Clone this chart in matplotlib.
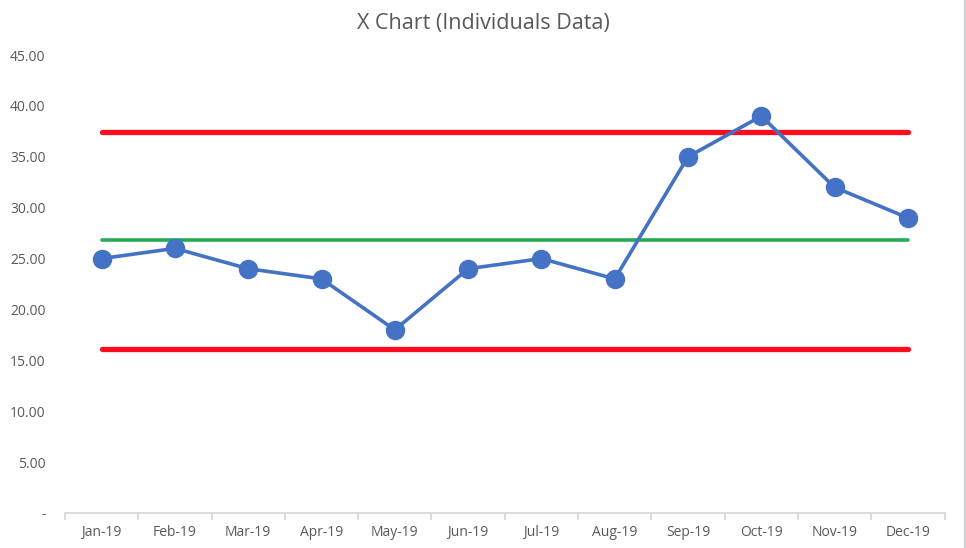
import matplotlib.pyplot as plt
from matplotlib.lines import Line2D

months = ["Jan-19", "Feb-19", "Mar-19", "Apr-19", "May-19", "Jun-19",
          "Jul-19", "Aug-19", "Sep-19", "Oct-19", "Nov-19", "Dec-19"]
values = [25, 26, 24, 23, 18, 24, 25, 23, 35, 39, 32, 29]
average = 26.8
upper_limit = 37.4
lower_limit = 16.1
y_ticks = [0, 5, 10, 15, 20, 25, 30, 35, 40, 45]

TEXT_COLOR = "#595959"
AXIS_COLOR = "#D9D9D9"

plt.rcParams["font.family"] = ["Open Sans", "DejaVu Sans"]

fig = plt.figure(figsize=(9.66, 5.48), dpi=100)
ax = fig.add_axes([0.0673, 0.0639, 0.9105, 0.8357])

x = list(range(len(months)))
n = len(x)

ax.plot(x, [upper_limit] * n, color="#FF0D1E", linewidth=3.8, solid_capstyle="round", zorder=2)
ax.plot(x, [lower_limit] * n, color="#FF0D1E", linewidth=3.8, solid_capstyle="round", zorder=2)
ax.plot(x, [average] * n, color="#22AA55", linewidth=2.6, solid_capstyle="round", zorder=2)
ax.plot(x, values, color="#4472C4", linewidth=2.6, marker="o", markersize=13, zorder=3)

ax.set_xlim(-0.5, n - 0.5)
ax.set_ylim(0, 45)
ax.set_yticks(y_ticks)
ax.set_yticklabels(["-" if v == 0 else f"{v:.2f}" for v in y_ticks])
ax.set_xticks(x)
ax.set_xticklabels(months)
ax.set_xticks([i - 0.5 for i in range(n + 1)], minor=True)

for side in ("top", "right", "left"):
    ax.spines[side].set_visible(False)
ax.spines["bottom"].set_color(AXIS_COLOR)
ax.spines["bottom"].set_linewidth(1.3)

ax.tick_params(axis="y", length=0, labelsize=10, labelcolor=TEXT_COLOR, pad=14)
ax.tick_params(axis="x", which="major", length=0, labelsize=10, labelcolor=TEXT_COLOR, pad=9)
ax.tick_params(axis="x", which="minor", length=5, width=1.3, color=AXIS_COLOR)

fig.text(0.5, 0.957, "X Chart (Individuals Data)", ha="center", va="center",
         fontsize=15.5, color=TEXT_COLOR)

fig.add_artist(Line2D([0.9985, 0.9985], [0, 1], transform=fig.transFigure,
                      color="#CDD1D6", linewidth=2.5))

fig.savefig("out.png", dpi=100)
